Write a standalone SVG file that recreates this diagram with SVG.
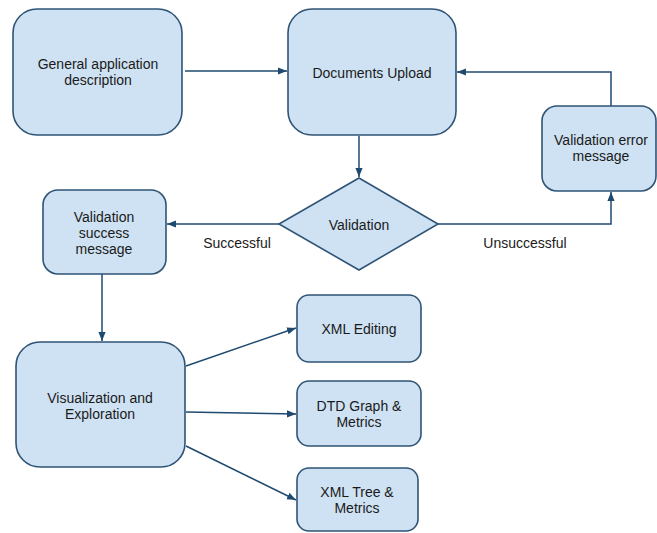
<svg xmlns="http://www.w3.org/2000/svg" width="657" height="533" viewBox="0 0 657 533">
<style>
.n{fill:#cfe2f3;stroke:#2f5475;stroke-width:1.6}
.t{font-family:"Liberation Sans",Arial,sans-serif;font-size:14px;fill:#1a1a1a;text-anchor:middle}
.c{fill:none;stroke:#1f4a70;stroke-width:1.5}
</style>
<defs>
<marker id="a" viewBox="0 0 10 10" refX="10" refY="5" markerWidth="9" markerHeight="9" markerUnits="userSpaceOnUse" orient="auto">
<path d="M0,1 L10,5 L0,9 z" fill="#1f4a70"/>
</marker>
</defs>
<rect width="657" height="533" fill="#fff"/>
<g id="connectors">
<path class="c" d="M185,71 H287" marker-end="url(#a)"/>
<path class="c" d="M611,106 V72 H457" marker-end="url(#a)"/>
<path class="c" d="M359,136 V177" marker-end="url(#a)"/>
<path class="c" d="M438,224 H611 V192" marker-end="url(#a)"/>
<path class="c" d="M279,224 H167" marker-end="url(#a)"/>
<path class="c" d="M102,274 V341" marker-end="url(#a)"/>
<path class="c" d="M186,366 L296,328" marker-end="url(#a)"/>
<path class="c" d="M186,412 L296,414" marker-end="url(#a)"/>
<path class="c" d="M186,446 L296,500" marker-end="url(#a)"/>
<text class="t" x="237" y="248">Successful</text>
<text class="t" x="525" y="248">Unsuccessful</text>
</g>
<g id="general">
<rect class="n" x="13" y="9" width="169" height="126" rx="24"/>
<text class="t" x="98" y="69">General application</text>
<text class="t" x="98" y="85">description</text>
</g>
<g id="upload">
<rect class="n" x="288" y="9" width="168" height="126" rx="24"/>
<text class="t" x="372" y="78">Documents Upload</text>
</g>
<g id="error">
<rect class="n" x="542" y="106" width="114" height="85" rx="15"/>
<text class="t" x="601" y="145">Validation error</text>
<text class="t" x="601" y="161">message</text>
</g>
<g id="validation">
<polygon class="n" points="359,178 438,224 359,270 279,224"/>
<text class="t" x="359" y="230">Validation</text>
</g>
<g id="success">
<rect class="n" x="43" y="190" width="123" height="84" rx="15"/>
<text class="t" x="104" y="222">Validation</text>
<text class="t" x="104" y="238">success</text>
<text class="t" x="104" y="254">message</text>
</g>
<g id="visualization">
<rect class="n" x="16" y="342" width="169" height="125" rx="24"/>
<text class="t" x="100" y="403">Visualization and</text>
<text class="t" x="100" y="419">Exploration</text>
</g>
<g id="xmlediting">
<rect class="n" x="297" y="295" width="124" height="67" rx="12"/>
<text class="t" x="359" y="334">XML Editing</text>
</g>
<g id="dtd">
<rect class="n" x="297" y="381" width="124" height="65" rx="12"/>
<text class="t" x="359" y="411">DTD Graph &amp;</text>
<text class="t" x="359" y="427">Metrics</text>
</g>
<g id="xmltree">
<rect class="n" x="297" y="468" width="121" height="63" rx="12"/>
<text class="t" x="357" y="497">XML Tree &amp;</text>
<text class="t" x="357" y="513">Metrics</text>
</g>
</svg>
